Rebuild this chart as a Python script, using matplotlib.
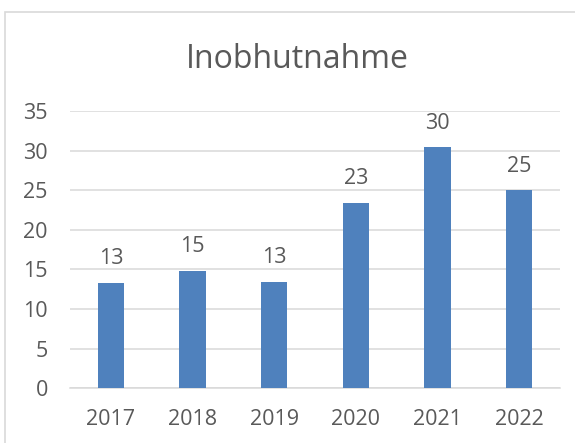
import matplotlib
matplotlib.use("Agg")
import matplotlib.pyplot as plt
from matplotlib.patches import Rectangle

years = ["2017", "2018", "2019", "2020", "2021", "2022"]
counts = [13.35, 14.8, 13.45, 23.4, 30.4, 25.0]
labels = ["13", "15", "13", "23", "30", "25"]

BAR_COLOR = "#4F81BD"
TEXT_COLOR = "#595959"
GRID_COLOR = "#D9D9D9"

plt.rcParams['font.family'] = ['Open Sans', 'DejaVu Sans']

W, H = 575, 443
fig = plt.figure(figsize=(W / 100, H / 100), dpi=100)
fig.patch.set_facecolor("white")

# chart border (right and bottom edges are cropped off in the original)
fig.patches.append(Rectangle((5 / W, -0.1), 1.2, 1 - 12 / H + 0.1,
                             transform=fig.transFigure, fill=False,
                             edgecolor="#D9D9D9", linewidth=1.2))

ax = fig.add_axes([70 / W, 1 - 388.3 / H, 490 / W, 277.3 / H])
x = range(len(years))
ax.bar(x, counts, width=0.32, color=BAR_COLOR, zorder=3)

for xi, v, lab in zip(x, counts, labels):
    ax.annotate(lab, (xi, v), xytext=(0, 13.4), textcoords="offset points",
                ha="center", va="baseline", fontsize=15.5, color=TEXT_COLOR)

ax.set_xlim(-0.5, len(years) - 0.5)
ax.set_ylim(0, 35)
ax.set_yticks(range(0, 36, 5))
ax.set_xticks(list(x))
ax.set_xticklabels(years)
ax.tick_params(axis="both", length=0, labelsize=15.5, labelcolor=TEXT_COLOR)
ax.tick_params(axis="y", pad=16)
ax.tick_params(axis="x", pad=15)
ax.grid(axis="y", color=GRID_COLOR, linewidth=1.1, zorder=0)
for s in ["top", "right", "left"]:
    ax.spines[s].set_visible(False)
ax.spines["bottom"].set_color(GRID_COLOR)
ax.spines["bottom"].set_linewidth(1.1)

fig.text(297 / W, 1 - 68.3 / H, "Inobhutnahme", ha="center", va="baseline",
         fontsize=23, color=TEXT_COLOR)

fig.savefig("out.png", dpi=100, facecolor="white")
